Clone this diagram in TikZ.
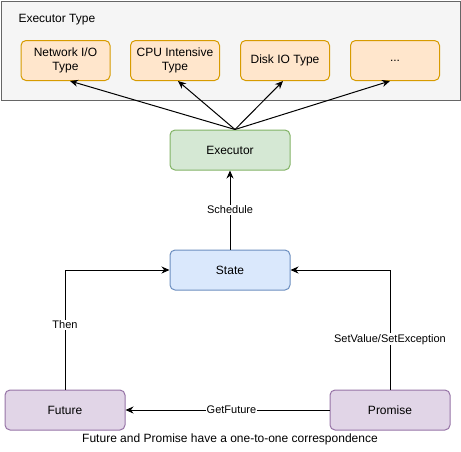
\documentclass[tikz,border=0pt]{standalone}
\usepackage{fontspec}
\setmainfont{Liberation Sans}
\usetikzlibrary{arrows.meta,positioning}

\definecolor{groupfill}{HTML}{F5F5F5}
\definecolor{groupline}{HTML}{666666}
\definecolor{typefill}{HTML}{FFE6CC}
\definecolor{typeline}{HTML}{D79B00}
\definecolor{execfill}{HTML}{D5E8D4}
\definecolor{execline}{HTML}{82B366}
\definecolor{statefill}{HTML}{DAE8FC}
\definecolor{stateline}{HTML}{6C8EBF}
\definecolor{pairfill}{HTML}{E1D5E7}
\definecolor{pairline}{HTML}{9673A6}

\begin{document}
\begin{tikzpicture}[
  x=1pt,y=-1pt,
  every node/.style={font=\fontsize{12}{14}\selectfont,line width=1pt},
  group/.style={rectangle,draw=groupline,fill=groupfill,minimum width=459pt,minimum height=99pt,inner sep=0pt},
  box/.style={rectangle,rounded corners=5pt,minimum height=40pt,align=center,inner sep=0pt},
  exectype/.style={box,draw=typeline,fill=typefill,minimum width=89pt},
  process/.style={box,draw=execline,fill=execfill,minimum width=120pt},
  state/.style={box,draw=stateline,fill=statefill,minimum width=120pt},
  pair/.style={box,draw=pairline,fill=pairfill,minimum width=120pt},
  flow/.style={draw,line width=1pt,-{Stealth[length=8pt,width=7pt]}},
  lbl/.style={font=\fontsize{11}{13}\selectfont,fill=white,inner sep=1pt}]

  \useasboundingbox (0,0) rectangle (461,451);

  \node(types)  [group] at (230.5,50.5) {};
  \node(title)  [anchor=west,inner sep=0pt] at (18,20) {Executor Type};

  \node(net)    [exectype] at (65.5,60.5)  {Network I/O\\Type};
  \node(cpu)    [exectype] at (175,60.5)   {CPU Intensive\\Type};
  \node(disk)   [exectype] at (285,60.5)   {Disk IO Type};
  \node(more)   [exectype] at (395,60.5)   {...};

  \node(exec)   [process] at (230,150)  {Executor};
  \node(state)  [state]   at (230,270)  {State};
  \node(future) [pair]    at (65,410)   {Future};
  \node(promise)[pair]    at (390,410)  {Promise};

  \node(note) at (230,439) {Future and Promise have a one-to-one correspondence};

  \draw[flow] ([xshift=5pt]exec.north) -- ([xshift=4.5pt]net.south);
  \draw[flow] ([xshift=5pt]exec.north) -- ([xshift=3pt]cpu.south);
  \draw[flow] ([xshift=5pt]exec.north) -- ([xshift=-2pt]disk.south);
  \draw[flow] ([xshift=5pt]exec.north) -- ([xshift=-5pt]more.south);

  \draw[flow] (state.north) -- (exec.south) node[lbl,midway] {Schedule};
  \draw[flow] (future.north) |- (state.west) node[lbl,pos=0.27] {Then};
  \draw[flow] (promise.north) |- (state.east) node[lbl,pos=0.21] {SetValue/SetException};
  \draw[flow] (promise.west) -- (future.east) node[lbl,midway,xshift=4pt] {GetFuture};

\end{tikzpicture}
\end{document}
